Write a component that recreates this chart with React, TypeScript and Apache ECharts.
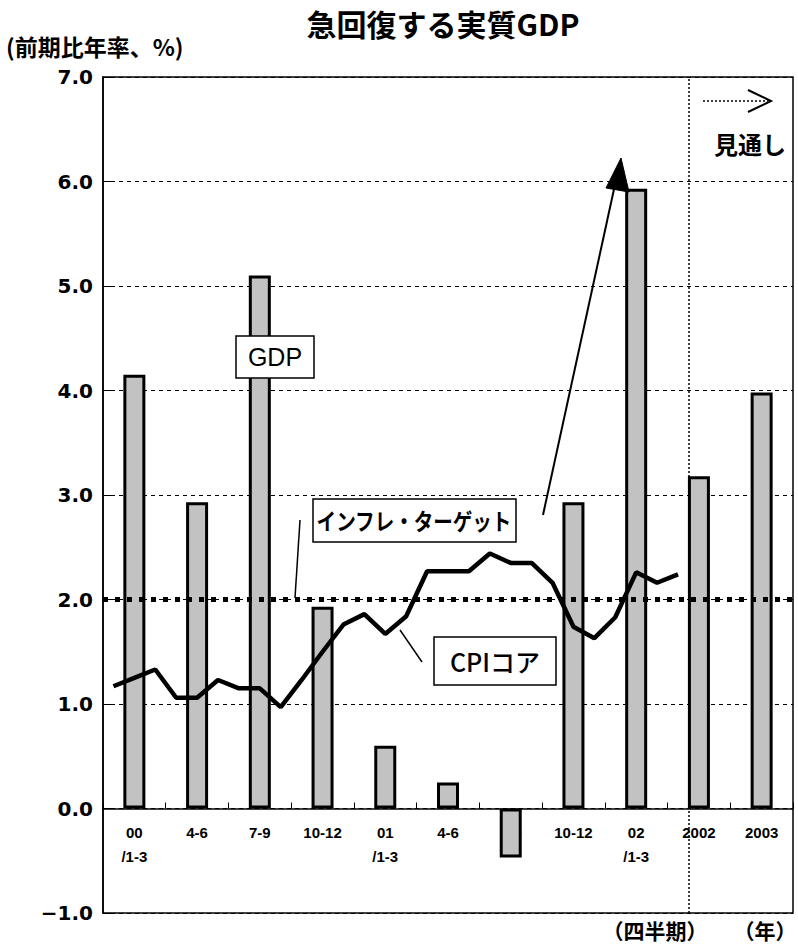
import React, { useEffect, useRef } from "react";
import * as echarts from "echarts";

// Quarterly / annual categories
const categories = ["00\n/1-3", "4-6", "7-9", "10-12", "01\n/1-3", "4-6", "7-9", "10-12", "02\n/1-3", "2002", "2003"];
// Real GDP growth (q/q annualised, %)
const gdpValues = [4.15, 2.93, 5.1, 1.93, 0.6, 0.25, -0.47, 2.93, 5.93, 3.18, 3.98];
// Monthly core CPI (Jan 2000 – Apr 2002)
const cpiMonths = [
  "2000-01", "2000-02", "2000-03", "2000-04", "2000-05", "2000-06", "2000-07", "2000-08", "2000-09", "2000-10", "2000-11", "2000-12",
  "2001-01", "2001-02", "2001-03", "2001-04", "2001-05", "2001-06", "2001-07", "2001-08", "2001-09", "2001-10", "2001-11", "2001-12",
  "2002-01", "2002-02", "2002-03", "2002-04",
];
const cpiValues = [
  1.17, 1.25, 1.33, 1.06, 1.06, 1.23, 1.15, 1.15, 0.97, 1.23, 1.5, 1.76,
  1.86, 1.67, 1.84, 2.27, 2.27, 2.27, 2.44, 2.35, 2.35, 2.16, 1.74, 1.63,
  1.83, 2.26, 2.16, 2.24,
];
const inflationTarget = 2.0;
const monthsOnAxis = 33; // 11 categories x 3 months
const forecastStartMonth = 28;
const yMin = -1;
const yMax = 7;

const NUM_FONT = "'DejaVu Sans', 'Liberation Sans', sans-serif";
const LAB_FONT = "'Liberation Sans', Arial, sans-serif";
const JP_FONT = "'Noto Sans CJK JP', 'DejaVu Sans', sans-serif";

const GRID_TOP = 77;
const GRID_BOTTOM = 33;
const CHART_H = 946;

export default function App() {
  const ref = useRef<HTMLDivElement>(null);

  useEffect(() => {
    if (!ref.current) return;
    const chart = echarts.init(ref.current, undefined, { renderer: "svg" });
    const cpiData = cpiValues.map((v, i) => [i + 0.5, v]);
    const plotH = CHART_H - GRID_TOP - GRID_BOTTOM;
    const zeroOffset = -(plotH * (0 - yMin)) / (yMax - yMin);

    const option: any = {
      animation: false,
      backgroundColor: "#fff",
      grid: {
        left: 103,
        right: 5,
        top: GRID_TOP,
        bottom: GRID_BOTTOM,
        show: true,
        borderColor: "#000",
        borderWidth: 1.5,
        backgroundColor: "transparent",
      },
      xAxis: [
        {
          type: "category",
          data: categories,
          position: "bottom",
          offset: zeroOffset,
          axisLine: { onZero: false, lineStyle: { color: "#000", width: 1.5 } },
          axisTick: { show: true, inside: true, length: 6, lineStyle: { color: "#000", width: 1 } },
          axisLabel: {
            color: "#000",
            fontFamily: LAB_FONT,
            fontWeight: "bold",
            fontSize: 15,
            margin: 12,
            lineHeight: 24,
            interval: 0,
          },
          splitLine: { show: false },
        },
        {
          type: "value",
          min: 0,
          max: monthsOnAxis,
          show: false,
          splitLine: { show: false },
        },
      ],
      yAxis: {
        type: "value",
        min: yMin,
        max: yMax,
        interval: 1,
        axisLine: { show: true, lineStyle: { color: "#000", width: 1.5 } },
        axisTick: { show: true, inside: true, length: 8, lineStyle: { color: "#000" } },
        axisLabel: {
          color: "#000",
          fontFamily: NUM_FONT,
          fontWeight: "bold",
          fontSize: 20,
          margin: 10,
          formatter: (v: number) => (v < 0 ? "\u2212" + Math.abs(v).toFixed(1) : v.toFixed(1)),
        },
        splitLine: { show: true, lineStyle: { color: "#000", width: 1, type: [4, 4] } },
      },
      series: [
        {
          name: "GDP",
          type: "bar",
          xAxisIndex: 0,
          data: gdpValues,
          barWidth: 22,
          itemStyle: { color: "#c2c2c2", borderColor: "#000", borderWidth: 3 },
          z: 2,
        },
        {
          name: "CPIコア",
          type: "line",
          xAxisIndex: 1,
          data: cpiData,
          symbol: "none",
          lineStyle: { color: "#000", width: 4.5 },
          z: 4,
          markLine: {
            silent: true,
            symbol: "none",
            label: { show: false },
            data: [
              { yAxis: inflationTarget, lineStyle: { color: "#000", width: 5, type: [5, 7] } },
              { xAxis: forecastStartMonth, lineStyle: { color: "#000", width: 1.5, type: [2, 2] } },
            ],
          },
        },
      ],
      graphic: [
        {
          type: "text",
          x: 443,
          y: 23,
          style: {
            text: "急回復する実質GDP",
            fontFamily: JP_FONT,
            fontWeight: "bold",
            fontSize: 30,
            fill: "#000",
            align: "center",
            verticalAlign: "middle",
          },
        },
        {
          type: "text",
          x: 6,
          y: 46,
          style: {
            text: "(前期比年率、%)",
            fontFamily: JP_FONT,
            fontWeight: "bold",
            fontSize: 23,
            fill: "#000",
            align: "left",
            verticalAlign: "middle",
          },
        },
        {
          type: "text",
          x: 655,
          y: 930,
          style: {
            text: "（四半期）",
            fontFamily: JP_FONT,
            fontWeight: "bold",
            fontSize: 21,
            fill: "#000",
            align: "center",
            verticalAlign: "middle",
          },
        },
        {
          type: "text",
          x: 765,
          y: 930,
          style: {
            text: "（年）",
            fontFamily: JP_FONT,
            fontWeight: "bold",
            fontSize: 21,
            fill: "#000",
            align: "center",
            verticalAlign: "middle",
          },
        },
        // forecast marker
        {
          type: "line",
          shape: { x1: 703, y1: 101, x2: 768, y2: 101 },
          style: { stroke: "#000", lineWidth: 1.5, lineDash: [2, 2] },
        },
        {
          type: "polyline",
          shape: { points: [[748, 90], [771, 101], [748, 112]] },
          style: { stroke: "#000", lineWidth: 2, fill: "none" },
        },
        {
          type: "text",
          x: 750,
          y: 143,
          style: {
            text: "見通し",
            fontFamily: JP_FONT,
            fontWeight: "bold",
            fontSize: 24,
            fill: "#000",
            align: "center",
            verticalAlign: "middle",
          },
        },
        // GDP label
        {
          type: "rect",
          shape: { x: 236, y: 336, width: 78, height: 42 },
          style: { fill: "#fff", stroke: "#000", lineWidth: 1.5 },
          z: 10,
        },
        {
          type: "text",
          x: 275,
          y: 357,
          z: 11,
          style: {
            text: "GDP",
            fontFamily: LAB_FONT,
            fontSize: 25,
            fill: "#000",
            align: "center",
            verticalAlign: "middle",
          },
        },
        // inflation target label
        {
          type: "line",
          shape: { x1: 300, y1: 520, x2: 295, y2: 598 },
          style: { stroke: "#000", lineWidth: 1.5 },
          z: 10,
        },
        {
          type: "rect",
          shape: { x: 313, y: 499, width: 203, height: 43 },
          style: { fill: "#fff", stroke: "#000", lineWidth: 1.5 },
          z: 10,
        },
        {
          type: "text",
          x: 414,
          y: 520,
          scaleX: 0.85,
          z: 11,
          style: {
            text: "インフレ・ターゲット",
            fontFamily: JP_FONT,
            fontWeight: "bold",
            fontSize: 23,
            fill: "#000",
            align: "center",
            verticalAlign: "middle",
          },
        },
        // CPI core label
        {
          type: "line",
          shape: { x1: 400, y1: 630, x2: 422, y2: 662 },
          style: { stroke: "#000", lineWidth: 1.5 },
          z: 10,
        },
        {
          type: "rect",
          shape: { x: 434, y: 637, width: 122, height: 48 },
          style: { fill: "#fff", stroke: "#000", lineWidth: 1.5 },
          z: 10,
        },
        {
          type: "text",
          x: 495,
          y: 661,
          z: 11,
          style: {
            text: "CPIコア",
            fontFamily: JP_FONT,
            fontWeight: 500,
            fontSize: 25,
            fill: "#000",
            align: "center",
            verticalAlign: "middle",
          },
        },
        // rising arrow
        {
          type: "line",
          shape: { x1: 543, y1: 515, x2: 616, y2: 180 },
          style: { stroke: "#000", lineWidth: 2 },
          z: 10,
        },
        {
          type: "polygon",
          shape: { points: [[621, 158], [606, 188], [629, 192]] },
          style: { fill: "#000", stroke: "#000", lineWidth: 1 },
          z: 10,
        },
      ],
    };

    chart.setOption(option);
    return () => chart.dispose();
  }, []);

  return (
    <div
      ref={ref}
      style={{ position: "absolute", left: 0, top: 0, width: 798, height: 946, background: "#fff" }}
    />
  );
}
